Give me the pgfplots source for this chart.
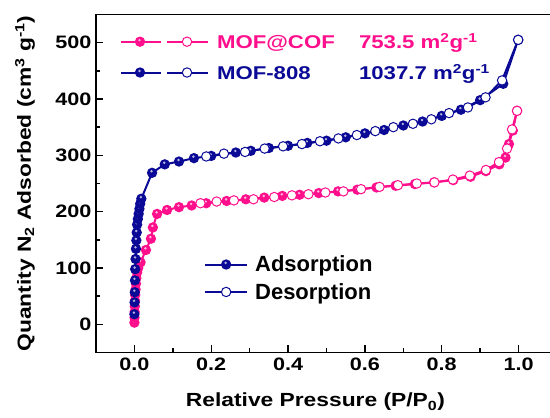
\documentclass[border=0pt]{standalone}
\usepackage{fontspec}
\setmainfont{Liberation Sans}
\newfontfamily\widesans{Liberation Sans}[FakeStretch=1.2]
\usepackage{pgfplots}
\pgfplotsset{compat=1.18}

\definecolor{pinkc}{RGB}{255,15,140}
\definecolor{navyc}{RGB}{10,10,150}

% solid sphere-like marker: filled disc with a small light highlight
\pgfdeclareplotmark{sphere}{%
  \pgfpathcircle{\pgfpointorigin}{\pgfplotmarksize}%
  \pgfusepathqfill
  \begin{pgfscope}%
    \pgfsetfillcolor{white}%
    \pgfsetfillopacity{0.7}%
    \pgfpathcircle{\pgfpoint{-0.1\pgfplotmarksize}{0.3\pgfplotmarksize}}{0.26\pgfplotmarksize}%
    \pgfusepathqfill
  \end{pgfscope}%
}

\tikzset{
  ads/.style={color=#1, line width=2pt, mark=sphere, mark size=5.2pt,
              mark options={solid, fill=#1}},
  des/.style={color=#1, line width=2pt, mark=*, mark size=4.7pt,
              mark options={solid, fill=white, draw=#1, line width=1pt}},
}

\pgfplotsset{
  common/.style={
    scale only axis, width=461pt, height=338pt,
    at={(0pt,0pt)}, anchor=south west,
    xmin=-0.1, xmax=1.1, ymin=-50, ymax=550,
  },
  pairleg/.style={legend image code/.code={
      \draw[mark repeat=2,mark phase=2,ads=#1] plot coordinates {(0pt,0pt)(19pt,0pt)(40pt,0pt)};
      \draw[mark repeat=2,mark phase=2,des=#1] plot coordinates {(46pt,0pt)(66pt,0pt)(87pt,0pt)};}},
  adsleg/.style={legend image code/.code={
      \draw[mark repeat=2,mark phase=2,ads=#1] plot coordinates {(0pt,0pt)(21pt,0pt)(42pt,0pt)};}},
  desleg/.style={legend image code/.code={
      \draw[mark repeat=2,mark phase=2,des=#1] plot coordinates {(0pt,0pt)(21pt,0pt)(42pt,0pt)};}},
}

\begin{document}
\begin{tikzpicture}
\begin{axis}[common,
  axis line style={line width=1.8pt},
  xtick={0,0.2,...,1.0}, minor xtick={0.1,0.3,...,0.9},
  ytick={0,100,...,500}, minor ytick={50,150,...,450},
  xtick pos=bottom, ytick pos=left,
  tick align=inside,
  major tick length=7pt, minor tick length=4pt,
  every tick/.style={black, line width=1.4pt},
  /pgf/number format/assume math mode=true,
  ticklabel style={font=\widesans\fontsize{18}{18}\selectfont\bfseries},
  yticklabel style={xshift=-1pt},
  xticklabel style={yshift=-2pt, /pgf/number format/fixed,
    /pgf/number format/fixed zerofill, /pgf/number format/precision=1},
  xlabel={Relative Pressure (P/P\textsubscript{0})},
  ylabel={Quantity N\textsubscript{2} Adsorbed (cm\textsuperscript{3} g\textsuperscript{-1})},
  label style={font=\widesans\fontsize{19}{19}\selectfont\bfseries},
  xlabel style={at={(axis description cs:0.476,-0.161)}, anchor=base},
  ylabel style={at={(axis description cs:-0.154,0.5)}, anchor=center},
  legend style={at={(axis cs:-0.038,517)}, anchor=north west, draw=none, fill=none,
    inner sep=0pt, row sep=14pt, nodes={inner sep=0pt},
    font=\widesans\fontsize{18.5}{18.5}\selectfont\bfseries,
    /tikz/every odd column/.append style={column sep=8pt}},
  legend cell align=left,
]
% MOF@COF adsorption branch
\addplot[ads=pinkc, forget plot] coordinates {
 (0.0000,3) (0.0003,12) (0.0006,22) (0.0010,32) (0.0015,42) (0.0020,52)
 (0.0030,62) (0.0040,72) (0.0050,82) (0.0070,92) (0.0100,100) (0.0160,110)
 (0.0300,132) (0.0430,152) (0.0480,172) (0.0590,196) (0.0850,203) (0.1160,208)
 (0.1490,211) (0.1870,215) (0.2400,219) (0.2900,222) (0.3380,225) (0.3850,228)
 (0.4300,230) (0.4800,233) (0.5300,236) (0.5800,239) (0.6300,243) (0.6800,246)
 (0.7300,249) (0.7800,252) (0.8300,256) (0.8750,262) (0.9150,272) (0.9500,284)
 (0.9660,296) (0.9750,320) (0.9850,344) (0.9960,379)
};
% MOF@COF desorption branch
\addplot[des=pinkc, forget plot] coordinates {
 (0.9960,379) (0.9830,346) (0.9700,312) (0.9490,288) (0.9150,274) (0.8730,264)
 (0.8290,257) (0.7810,252) (0.7350,250) (0.6860,247) (0.6380,244) (0.5900,240)
 (0.5440,236) (0.4970,234) (0.4530,231) (0.4100,229) (0.3640,226) (0.3100,222)
 (0.2590,220) (0.2140,218) (0.1720,215)
};
% MOF-808 adsorption branch
\addplot[ads=navyc, forget plot] coordinates {
 (0.0000,18) (0.0005,39) (0.0010,57) (0.0015,78) (0.0020,98) (0.0030,116)
 (0.0040,134) (0.0050,149) (0.0060,163) (0.0070,177) (0.0090,187) (0.0110,196)
 (0.0130,205) (0.0150,214) (0.0180,223) (0.0460,269) (0.0790,284) (0.1160,289)
 (0.1550,295) (0.2000,299) (0.2640,305) (0.3030,308) (0.3500,313) (0.4000,317)
 (0.4500,322) (0.5000,326) (0.5500,332) (0.6000,339) (0.6500,345) (0.7000,353)
 (0.7500,360) (0.8000,370) (0.8500,381) (0.9000,398) (0.9600,427) (0.9990,505)
};
% MOF-808 desorption branch
\addplot[des=navyc, forget plot] coordinates {
 (0.9990,505) (0.9570,433) (0.9140,403) (0.8680,385) (0.8190,375) (0.7730,364)
 (0.7250,356) (0.6740,350) (0.6270,343) (0.5790,336) (0.5310,330) (0.4830,325)
 (0.4360,320) (0.3870,316) (0.3390,312) (0.2880,306) (0.2330,303) (0.1870,298)
};
\addlegendimage{pairleg=pinkc}
\addlegendentry{\textcolor{pinkc}{\makebox[142pt][l]{MOF@COF}753.5 m\textsuperscript{2}g\textsuperscript{-1}}}
\addlegendimage{pairleg=navyc}
\addlegendentry{\textcolor{navyc}{\makebox[142pt][l]{MOF-808}1037.7 m\textsuperscript{2}g\textsuperscript{-1}}}
\end{axis}

% branch key
\begin{axis}[common, hide axis,
  legend style={at={(axis cs:0.181,122)}, anchor=north west, draw=none, fill=none,
    inner sep=0pt, row sep=10pt, nodes={inner sep=0pt},
    font=\fontsize{22}{22}\selectfont\bfseries,
    /tikz/every odd column/.append style={column sep=7pt}},
  legend cell align=left,
]
\addlegendimage{adsleg=navyc}
\addlegendentry{Adsorption}
\addlegendimage{desleg=navyc}
\addlegendentry{Desorption}
\end{axis}

\pgfresetboundingbox
\useasboundingbox (-96pt,-65.5pt) rectangle (454pt,352.5pt);
\end{tikzpicture}
\end{document}
